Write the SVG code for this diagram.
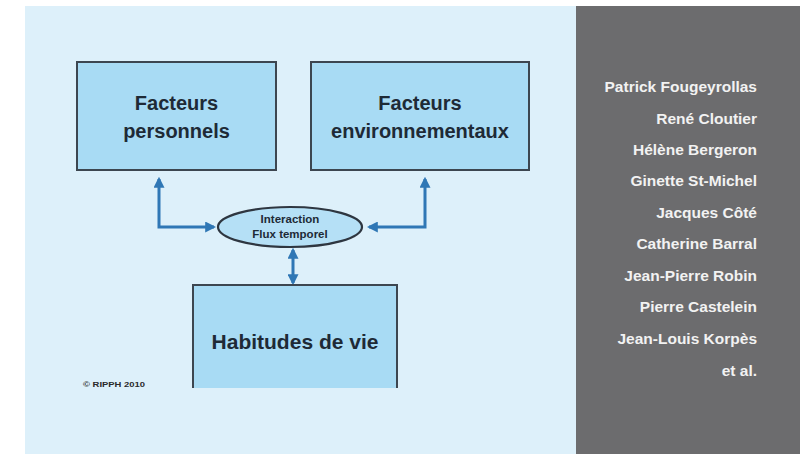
<svg xmlns="http://www.w3.org/2000/svg" width="808" height="454" viewBox="0 0 808 454">
  <style>
    .box { fill: #a8dbf4; stroke: #3c4650; stroke-width: 2; }
    .lbl { font-family: "Liberation Sans", Arial, sans-serif; font-weight: bold; fill: #1e2a36; text-anchor: middle; }
    .name { font-family: "Liberation Sans", Arial, sans-serif; font-weight: bold; font-size: 15.5px; fill: #f2f2f2; text-anchor: end; }
    .conn { fill: none; stroke: #2f77b5; stroke-width: 3; marker-start: url(#arr); marker-end: url(#arr); }
  </style>
  <defs>
    <marker id="arr" viewBox="0 0 10 10" refX="8" refY="5" markerWidth="11" markerHeight="11" markerUnits="userSpaceOnUse" orient="auto-start-reverse">
      <path d="M0,0 L10,5 L0,10 Z" fill="#2f77b5"/>
    </marker>
  </defs>
  <rect x="0" y="0" width="808" height="454" fill="#ffffff"/>
  <rect x="25" y="6" width="551" height="448" fill="#ddf0fa"/>
  <rect x="576" y="6" width="224" height="448" fill="#6c6c6e"/>

  <g id="connectors">
    <path class="conn" d="M159,179 V227 H214"/>
    <path class="conn" d="M425,179 V227 H369"/>
    <path class="conn" d="M293,250 V283"/>
  </g>

  <g id="facteurs-personnels">
    <rect class="box" x="77" y="62" width="199" height="108"/>
    <text class="lbl" x="176.5" y="110" font-size="20">Facteurs</text>
    <text class="lbl" x="176.5" y="138" font-size="20">personnels</text>
  </g>
  <g id="facteurs-environnementaux">
    <rect class="box" x="311" y="62" width="218" height="108"/>
    <text class="lbl" x="420" y="110" font-size="20">Facteurs</text>
    <text class="lbl" x="420" y="138" font-size="20">environnementaux</text>
  </g>
  <g id="interaction">
    <ellipse cx="290" cy="227" rx="72" ry="20" fill="#b5e0f6" stroke="#2e3640" stroke-width="2.2"/>
    <text class="lbl" x="290" y="223" font-size="11.5">Interaction</text>
    <text class="lbl" x="290" y="238" font-size="11.5">Flux temporel</text>
  </g>
  <g id="habitudes-de-vie">
    <rect x="193" y="285" width="204" height="103" fill="#a8dbf4"/>
    <path d="M193,388 V285 H397 V388" fill="none" stroke="#3c4650" stroke-width="2"/>
    <text class="lbl" x="295" y="349" font-size="21">Habitudes de vie</text>
  </g>
  <text x="83" y="387" font-family="Liberation Sans, Arial, sans-serif" font-weight="bold" font-size="7" fill="#2a2a2a" textLength="62" lengthAdjust="spacingAndGlyphs">© RIPPH 2010</text>

  <g id="authors">
    <text class="name" x="757" y="92">Patrick Fougeyrollas</text>
    <text class="name" x="757" y="124">René Cloutier</text>
    <text class="name" x="757" y="155">Hélène Bergeron</text>
    <text class="name" x="757" y="186">Ginette St-Michel</text>
    <text class="name" x="757" y="218">Jacques Côté</text>
    <text class="name" x="757" y="249">Catherine Barral</text>
    <text class="name" x="757" y="281">Jean-Pierre Robin</text>
    <text class="name" x="757" y="312">Pierre Castelein</text>
    <text class="name" x="757" y="344">Jean-Louis Korpès</text>
    <text class="name" x="757" y="376">et al.</text>
  </g>
</svg>
